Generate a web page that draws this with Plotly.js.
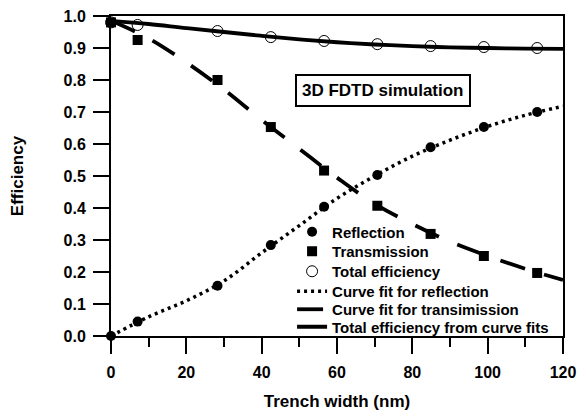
<!DOCTYPE html>
<html>
<head>
<meta charset="utf-8">
<script src="https://cdn.plot.ly/plotly-3.0.1.min.js"></script>
<style>html,body{margin:0;padding:0;background:#fff;}#chart{width:580px;height:416px;}</style>
</head>
<body>
<div id="chart"></div>
<script>
// Simulated points (trench width in nm)
const widthPts = [0, 7.07, 28.28, 42.43, 56.57, 70.71, 84.85, 98.99, 113.14];
const reflection = [0.0, 0.045, 0.157, 0.284, 0.404, 0.503, 0.590, 0.653, 0.700];
const transmission = [0.98, 0.925, 0.800, 0.653, 0.517, 0.407, 0.319, 0.250, 0.197];
const totalEff = [0.98, 0.972, 0.953, 0.934, 0.922, 0.912, 0.906, 0.903, 0.900];

// Curve fits
const fitX = [0, 10, 20, 30, 40, 50, 60, 70, 80, 90, 100, 110, 120];
const fitReflection = [0.0, 0.06, 0.11, 0.172, 0.26, 0.345, 0.43, 0.50, 0.562, 0.612, 0.655, 0.69, 0.718];
const fitTransmission = [0.985, 0.93, 0.855, 0.77, 0.675, 0.585, 0.495, 0.413, 0.35, 0.295, 0.25, 0.21, 0.175];
const fitTotal = [0.985, 0.975, 0.962, 0.95, 0.938, 0.927, 0.918, 0.911, 0.906, 0.902, 0.9, 0.898, 0.897];

const xTicks = [0, 20, 40, 60, 80, 100, 120];
const yTicks = [0.0, 0.1, 0.2, 0.3, 0.4, 0.5, 0.6, 0.7, 0.8, 0.9, 1.0];

const legendNames = ['Reflection', 'Transmission', 'Total efficiency',
  'Curve fit for reflection', 'Curve fit for transimission', 'Total efficiency from curve fits'];
const annotationText = '3D FDTD simulation';
const xTitle = 'Trench width (nm)';
const yTitle = 'Efficiency';

const FONT = 'Arial, "Liberation Sans", sans-serif';
const legendIds = ['legend', 'legend2', 'legend3', 'legend4', 'legend5', 'legend6'];

const traces = [
  {x: widthPts, y: reflection, name: legendNames[0], mode: 'markers', cliponaxis: false, legend: legendIds[0],
   marker: {symbol: 'circle', size: 10, color: '#000'}},
  {x: widthPts, y: transmission, name: legendNames[1], mode: 'markers', cliponaxis: false, legend: legendIds[1],
   marker: {symbol: 'square', size: 10, color: '#000'}},
  {x: widthPts, y: totalEff, name: legendNames[2], mode: 'markers', cliponaxis: false, legend: legendIds[2],
   marker: {symbol: 'circle-open', size: 11, color: '#000', line: {width: 1, color: '#000'}}},
  {x: fitX, y: fitReflection, name: legendNames[3], mode: 'lines', cliponaxis: false, legend: legendIds[3],
   line: {shape: 'spline', color: '#000', width: 3.5, dash: '3px,4px'}},
  {x: fitX, y: fitTransmission, name: legendNames[4], mode: 'lines', cliponaxis: false, legend: legendIds[4],
   line: {shape: 'spline', color: '#000', width: 3.8, dash: '26px,20px'}},
  {x: fitX, y: fitTotal, name: legendNames[5], mode: 'lines', cliponaxis: false, legend: legendIds[5],
   line: {shape: 'spline', color: '#000', width: 3.8}}
];

// pixel row centres of the legend entries
const plotTop = 16, plotH = 320;
const rowY = [232, 251.5, 271.5, 291.5, 309.5, 327];

const layout = {
  width: 580, height: 416,
  margin: {l: 111, r: 17, t: 16, b: 80},
  paper_bgcolor: '#fff', plot_bgcolor: '#fff',
  font: {family: FONT, color: '#000', size: 16, weight: 'bold'},
  showlegend: true,
  xaxis: {
    range: [0, 120], tickvals: xTicks, ticks: 'outside', ticklen: 16, tickwidth: 2, tickcolor: '#000',
    minor: {dtick: 10, tick0: 0, ticks: 'outside', ticklen: 9, tickwidth: 2, tickcolor: '#000'},
    showline: true, linewidth: 2, linecolor: '#000', mirror: true, showgrid: false, zeroline: false,
    ticklabelstandoff: 5,
    tickfont: {family: FONT, size: 16, color: '#000', weight: 'bold'},
    title: {text: xTitle, font: {family: FONT, size: 17, color: '#000', weight: 'bold'}, standoff: 15}
  },
  yaxis: {
    range: [0, 1.0], tickvals: yTicks, tickformat: '.1f', ticks: 'outside', ticklen: 16, tickwidth: 2, tickcolor: '#000',
    showline: true, linewidth: 2, linecolor: '#000', mirror: true, showgrid: false, zeroline: false,
    ticklabelstandoff: 4,
    tickfont: {family: FONT, size: 16, color: '#000', weight: 'bold'},
    title: {text: yTitle, font: {family: FONT, size: 17, color: '#000', weight: 'bold'}, standoff: 36}
  },
  annotations: [{
    x: 72.2, y: 0.766, xref: 'x', yref: 'y', text: annotationText, showarrow: false,
    font: {family: FONT, size: 17, color: '#000', weight: 'bold'},
    bordercolor: '#000', borderwidth: 2, borderpad: 5, bgcolor: '#fff'
  }]
};

legendIds.forEach((id, i) => {
  layout[id] = {
    x: 0.4006, xanchor: 'left', y: 1 - (rowY[i] - plotTop) / plotH, yanchor: 'middle',
    bgcolor: 'rgba(0,0,0,0)', borderwidth: 0, itemwidth: 30,
    font: {family: FONT, size: 15, color: '#000', weight: 'bold'}
  };
});

Plotly.newPlot('chart', traces, layout, {staticPlot: true, displayModeBar: false});
</script>
</body>
</html>
